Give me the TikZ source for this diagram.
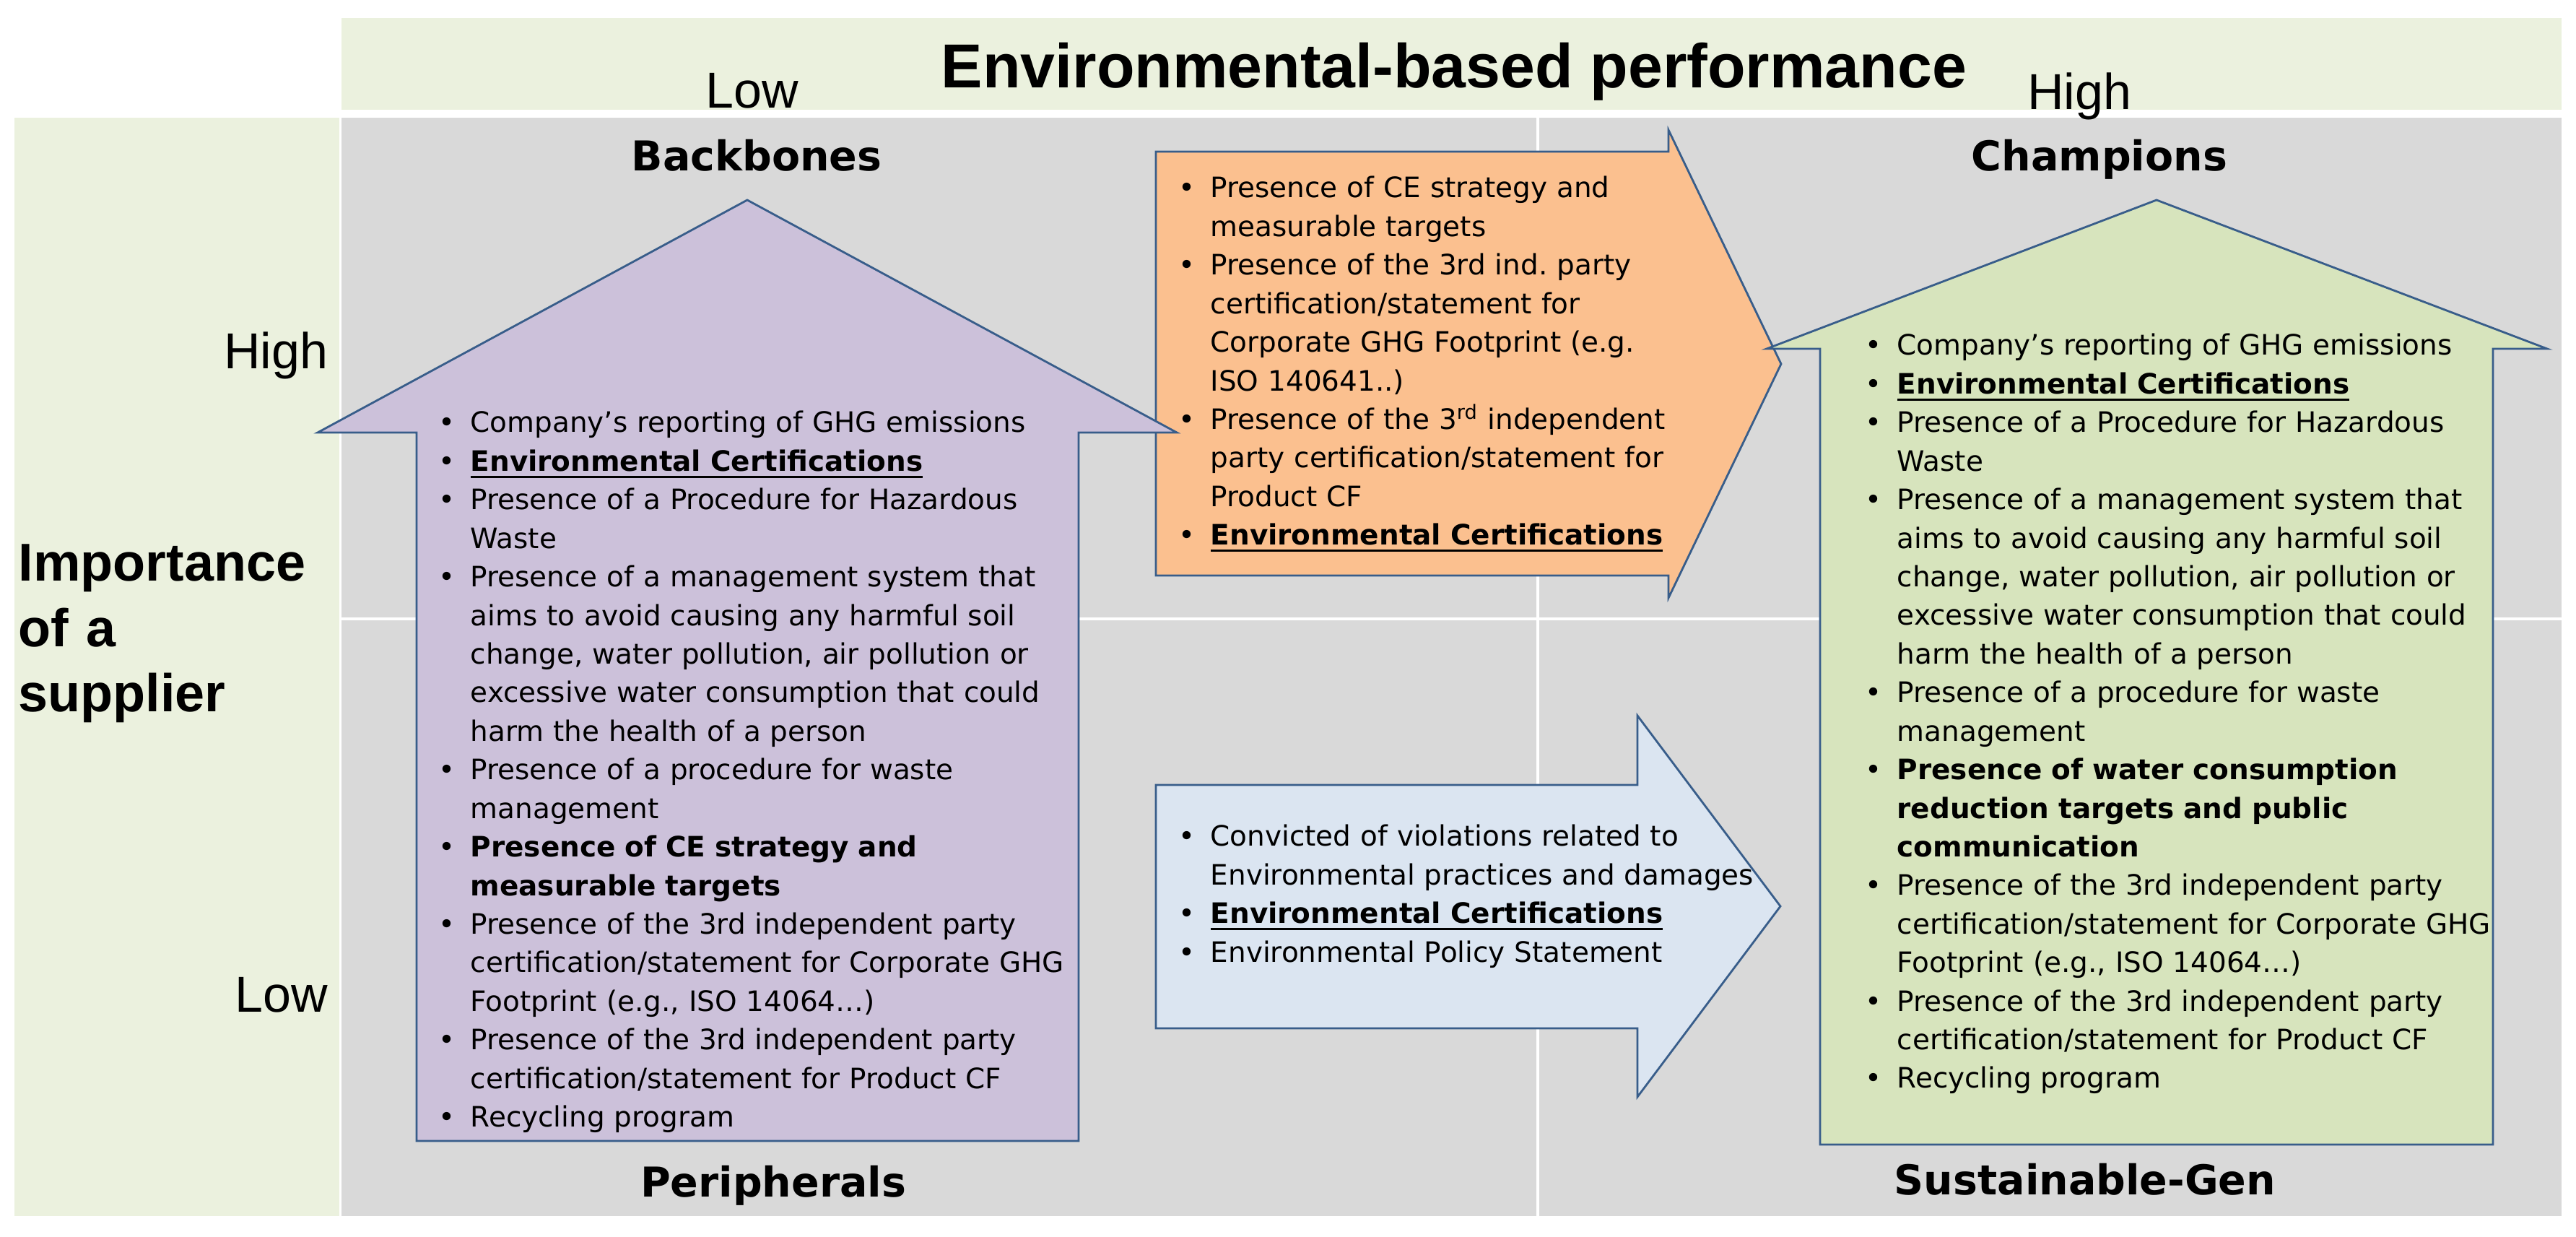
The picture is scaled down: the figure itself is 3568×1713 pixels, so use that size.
\documentclass[tikz,border=0pt]{standalone}
\usepackage{fontspec}
\setmainfont{DejaVu Sans}
\newfontfamily\arialf{Liberation Sans}
\frenchspacing
\definecolor{bandgreen}{HTML}{EBF1DE}
\definecolor{cellgray}{HTML}{D9D9D9}
\definecolor{outl}{HTML}{385D8A}
\definecolor{purp}{HTML}{CCC1DA}
\definecolor{oran}{HTML}{FBC08F}
\definecolor{lblue}{HTML}{DBE5F1}
\definecolor{lgreen}{HTML}{D7E4BD}
\newcommand{\bitem}[1]{\hangindent=0.44cm\hangafter=1\noindent\makebox[0.44cm][l]{\textbullet}#1\par}
\newcommand{\myul}[1]{\setbox0=\hbox{#1}\rlap{\rule[-2.6pt]{\wd0}{0.8pt}}\box0}
\newcommand{\ecert}{\myul{\textbf{Environmental Certifications}}}
\tikzset{
  listtext/.style={anchor=base west, inner sep=0pt, text width=9.5cm, align=left,
    font=\frenchspacing\fontsize{11.07pt}{15.19pt}\selectfont},
  heading/.style={anchor=base, inner sep=0pt, font=\bfseries\fontsize{16.2pt}{19pt}\selectfont},
  axislabel/.style={inner sep=0pt, font=\arialf\fontsize{19.9pt}{24pt}\selectfont},
  shapeline/.style={draw=outl, line width=0.8pt},
}
\begin{document}
\begin{tikzpicture}[x=0.01cm, y=-0.01cm]
\useasboundingbox (0,0) rectangle (3568,1713);
\fill[white] (0,0) rectangle (3568,1713);
% backgrounds
\fill[bandgreen] (473,25) rectangle (3548,152);
\fill[bandgreen] (20,163) rectangle (470,1684);
\fill[cellgray] (473,163) rectangle (3548,1684);
\draw[white, line width=1pt] (2130,163) -- (2130,1684);
\draw[white, line width=1pt] (473,857) -- (3548,857);
% arrows
\filldraw[fill=oran, shapeline] (1601,210) -- (2311,210) -- (2311,180) -- (2467,504) -- (2311,828) -- (2311,797) -- (1601,797) -- cycle;
\filldraw[fill=lblue, shapeline] (1601,1087) -- (2268,1087) -- (2268,991) -- (2466,1255) -- (2268,1519) -- (2268,1424) -- (1601,1424) -- cycle;
\filldraw[fill=purp, shapeline] (577,1580) -- (577,599) -- (440,599) -- (1035,277) -- (1630,599) -- (1494,599) -- (1494,1580) -- cycle;
\filldraw[fill=lgreen, shapeline] (2521,1585) -- (2521,483) -- (2447,483) -- (2987,277) -- (3528,483) -- (3453,483) -- (3453,1585) -- cycle;
% title and axes
\node[anchor=base, inner sep=0pt, font=\arialf\bfseries\fontsize{24.47pt}{29pt}\selectfont] (title) at (2014,122) {Environmental-based performance};
\node[axislabel, anchor=base] (xlow) at (1042,150) {Low};
\node[axislabel, anchor=base] (xhigh) at (2880,152) {High};
\node[axislabel, anchor=base east] (yhigh) at (455,511) {High};
\node[axislabel, anchor=base east] (ylow) at (455,1402) {Low};
\node[anchor=base west, inner sep=0pt, text width=4.3cm, align=left, font=\arialf\bfseries\fontsize{20.97pt}{25.6pt}\selectfont] (ylabel) at (25,805) {Importance\\of a\\supplier};
% headings
\node[heading] (backbones) at (1048,237) {Backbones};
\node[heading] (champions) at (2908,237) {Champions};
\node[heading] (peripherals) at (1071,1657) {Peripherals};
\node[heading] (sustgen) at (2888,1655) {Sustainable-Gen};
% lists
\node[listtext] (plist) at (607,599) {%
\bitem{Company’s reporting of GHG emissions}
\bitem{\ecert}
\bitem{Presence of a Procedure for Hazardous\newline Waste}
\bitem{Presence of a management system that\newline aims to avoid causing any harmful soil\newline change, water pollution, air pollution or\newline excessive water consumption that could\newline harm the health of a person}
\bitem{Presence of a procedure for waste\newline management}
\bitem{\textbf{Presence of CE strategy and\newline measurable targets}}
\bitem{Presence of the 3rd independent party\newline certification/statement for Corporate GHG\newline Footprint (e.g., ISO 14064…)}
\bitem{Presence of the 3rd independent party\newline certification/statement for Product CF}
\bitem{Recycling program}};
\node[listtext] (glist) at (2583,492) {%
\bitem{Company’s reporting of GHG emissions}
\bitem{\ecert}
\bitem{Presence of a Procedure for Hazardous\newline Waste}
\bitem{Presence of a management system that\newline aims to avoid causing any harmful soil\newline change, water pollution, air pollution or\newline excessive water consumption that could\newline harm the health of a person}
\bitem{Presence of a procedure for waste\newline management}
\bitem{\textbf{Presence of water consumption\newline reduction targets and public\newline communication}}
\bitem{Presence of the 3rd independent party\newline certification/statement for Corporate GHG\newline Footprint (e.g., ISO 14064…)}
\bitem{Presence of the 3rd independent party\newline certification/statement for Product CF}
\bitem{Recycling program}};
\node[listtext] (olist) at (1632,274) {%
\bitem{Presence of CE strategy and\newline measurable targets}
\bitem{Presence of the 3rd ind. party\newline certification/statement for\newline Corporate GHG Footprint (e.g.\newline ISO 140641..)}
\bitem{Presence of the 3\textsuperscript{rd} independent\newline party certification/statement for\newline Product CF}
\bitem{\ecert}};
\node[listtext] (blist) at (1632,1172) {%
\bitem{Convicted of violations related to\newline Environmental practices and damages}
\bitem{\ecert}
\bitem{Environmental Policy Statement}};
\end{tikzpicture}
\end{document}
